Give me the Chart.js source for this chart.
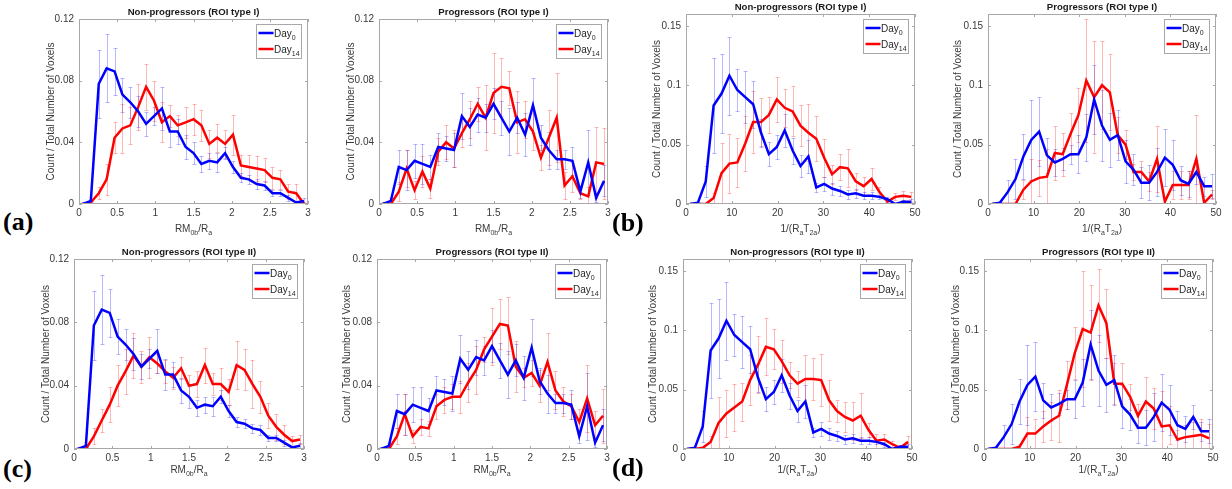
<!DOCTYPE html>
<html>
<head>
<meta charset="utf-8">
<script src="https://cdn.jsdelivr.net/npm/chart.js@4.4.1/dist/chart.umd.min.js"></script>
<style>
  html, body { margin: 0; padding: 0; background: #ffffff; }
  #page { position: relative; width: 1232px; height: 489px; overflow: hidden; background: #ffffff; }
  canvas { position: absolute; }
  .plabel { position: absolute; font-family: "Liberation Serif", "DejaVu Serif", serif; font-weight: bold; font-size: 26px; line-height: 26px; color: #000; }
</style>
</head>
<body>
<div id="page">
  <div class="plabel" style="left:3px;top:209px;">(a)</div>
  <div class="plabel" style="left:612px;top:210px;">(b)</div>
  <div class="plabel" style="left:3px;top:456px;">(c)</div>
  <div class="plabel" style="left:612px;top:455px;">(d)</div>
</div>
<script>
// ---------- categories (bin centres) ----------
const RM_X = [0.052,0.155,0.259,0.362,0.466,0.569,0.672,0.776,0.879,0.983,1.086,1.190,1.293,1.397,1.500,1.603,1.707,1.810,1.914,2.017,2.121,2.224,2.328,2.431,2.534,2.638,2.741,2.845,2.948];
const T_X  = [0.86,2.59,4.31,6.03,7.76,9.48,11.21,12.93,14.66,16.38,18.10,19.83,21.55,23.28,25.00,26.72,28.45,30.17,31.90,33.62,35.34,37.07,38.79,40.52,42.24,43.97,45.69,47.41,49.14];

// ---------- tick labels ----------
const RM_XTICKS = [0,0.5,1,1.5,2,2.5,3];
const T_XTICKS  = [0,10,20,30,40,50];
const RM_YTICKS = [0,0.04,0.08,0.12];
const T_YTICKS  = [0,0.05,0.1,0.15];

// ---------- series: Day0 (blue) ----------
const D0_NP_RM  = [0.000,0.002,0.078,0.088,0.086,0.071,0.066,0.060,0.052,0.057,0.062,0.047,0.047,0.037,0.033,0.026,0.028,0.027,0.033,0.024,0.017,0.016,0.013,0.012,0.007,0.007,0.004,0.001,0.002];
const D0_NP_RM_E= [0.001,0.001,0.022,0.022,0.015,0.011,0.010,0.010,0.008,0.006,0.014,0.010,0.008,0.008,0.007,0.005,0.005,0.006,0.004,0.004,0.003,0.003,0.003,0.003,0.002,0.002,0.002,0.001,0.002];
const D0_P_RM   = [0.000,0.002,0.024,0.022,0.028,0.026,0.024,0.037,0.036,0.035,0.057,0.050,0.058,0.056,0.065,0.056,0.047,0.056,0.045,0.064,0.043,0.035,0.029,0.029,0.028,0.008,0.027,0.004,0.015];
const D0_P_RM_E = [0.001,0.002,0.011,0.013,0.011,0.013,0.008,0.009,0.008,0.011,0.015,0.012,0.011,0.009,0.010,0.011,0.015,0.010,0.014,0.018,0.008,0.012,0.006,0.006,0.009,0.004,0.021,0.003,0.010];
const D0_NP_T   = [0.000,0.001,0.019,0.083,0.093,0.108,0.096,0.090,0.084,0.060,0.042,0.048,0.062,0.045,0.032,0.040,0.014,0.017,0.013,0.011,0.008,0.009,0.007,0.007,0.006,0.004,0.000,0.002,0.002];
const D0_NP_T_E = [0.000,0.001,0.013,0.040,0.033,0.033,0.018,0.022,0.020,0.012,0.010,0.010,0.014,0.011,0.009,0.014,0.004,0.006,0.005,0.004,0.004,0.004,0.003,0.003,0.002,0.002,0.001,0.001,0.002];
const D0_P_T    = [0.000,0.001,0.010,0.021,0.040,0.054,0.061,0.041,0.035,0.038,0.042,0.042,0.056,0.088,0.066,0.054,0.058,0.036,0.029,0.018,0.018,0.027,0.039,0.033,0.020,0.017,0.027,0.015,0.015];
const D0_P_T_E  = [0.000,0.001,0.010,0.017,0.019,0.034,0.029,0.015,0.011,0.009,0.008,0.016,0.020,0.029,0.030,0.023,0.021,0.018,0.013,0.013,0.015,0.020,0.024,0.021,0.012,0.011,0.010,0.008,0.010];

// ---------- series: Day14 (red) ----------
const D14_NP_RM_I   = [0.000,0.001,0.007,0.016,0.043,0.049,0.051,0.063,0.076,0.067,0.053,0.057,0.051,0.053,0.055,0.051,0.039,0.043,0.039,0.045,0.025,0.024,0.023,0.022,0.017,0.016,0.008,0.007,0.000];
const D14_NP_RM_I_E = [0.000,0.001,0.004,0.010,0.010,0.016,0.012,0.015,0.015,0.013,0.013,0.007,0.007,0.010,0.010,0.010,0.009,0.009,0.009,0.013,0.007,0.008,0.008,0.008,0.007,0.006,0.005,0.006,0.001];
const D14_P_RM_I    = [0.000,0.000,0.008,0.023,0.009,0.021,0.010,0.034,0.040,0.036,0.046,0.055,0.065,0.056,0.072,0.076,0.075,0.053,0.055,0.047,0.030,0.043,0.056,0.012,0.018,0.007,0.005,0.027,0.026];
const D14_P_RM_I_E  = [0.000,0.001,0.006,0.012,0.006,0.010,0.006,0.009,0.011,0.012,0.009,0.012,0.011,0.021,0.026,0.019,0.011,0.020,0.012,0.012,0.008,0.018,0.029,0.009,0.010,0.004,0.006,0.023,0.023];
const D14_NP_T_I    = [0.000,0.000,0.000,0.005,0.026,0.034,0.035,0.051,0.069,0.069,0.075,0.088,0.081,0.078,0.066,0.060,0.055,0.039,0.025,0.031,0.030,0.019,0.015,0.021,0.010,0.002,0.006,0.007,0.006];
const D14_NP_T_I_E  = [0.000,0.000,0.000,0.004,0.025,0.025,0.021,0.023,0.026,0.020,0.015,0.019,0.016,0.021,0.017,0.024,0.019,0.016,0.008,0.011,0.016,0.007,0.008,0.009,0.004,0.002,0.003,0.004,0.004];
const D14_P_T_I     = [0.000,0.000,0.000,0.000,0.012,0.019,0.022,0.023,0.043,0.042,0.059,0.075,0.104,0.090,0.100,0.094,0.058,0.050,0.027,0.027,0.019,0.038,0.002,0.016,0.016,0.016,0.038,0.001,0.008];
const D14_P_T_I_E   = [0.000,0.000,0.000,0.000,0.008,0.019,0.015,0.023,0.023,0.018,0.018,0.023,0.052,0.047,0.037,0.032,0.015,0.012,0.007,0.009,0.008,0.028,0.003,0.012,0.012,0.012,0.037,0.002,0.004];
const D14_NP_RM_II  = [0.000,0.000,0.008,0.018,0.028,0.040,0.049,0.059,0.052,0.058,0.054,0.049,0.045,0.051,0.040,0.041,0.053,0.041,0.041,0.036,0.053,0.050,0.041,0.033,0.021,0.014,0.009,0.005,0.006];
const D14_NP_RM_II_E= [0.000,0.001,0.005,0.007,0.011,0.013,0.014,0.014,0.010,0.013,0.006,0.007,0.007,0.007,0.007,0.008,0.011,0.007,0.010,0.008,0.015,0.013,0.015,0.010,0.008,0.008,0.006,0.003,0.003];
const D14_P_RM_II   = [0.000,0.000,0.008,0.022,0.008,0.014,0.013,0.027,0.031,0.033,0.033,0.042,0.050,0.063,0.071,0.079,0.078,0.052,0.045,0.048,0.040,0.055,0.037,0.030,0.027,0.017,0.032,0.015,0.021];
const D14_P_RM_II_E = [0.000,0.001,0.005,0.013,0.004,0.005,0.005,0.008,0.008,0.008,0.010,0.012,0.015,0.008,0.018,0.016,0.018,0.016,0.006,0.008,0.010,0.018,0.012,0.009,0.008,0.008,0.021,0.009,0.017];
const D14_NP_T_II   = [0.000,0.000,0.001,0.006,0.022,0.030,0.035,0.040,0.058,0.071,0.086,0.084,0.074,0.062,0.055,0.059,0.059,0.058,0.041,0.032,0.027,0.024,0.028,0.016,0.007,0.008,0.004,0.001,0.006];
const D14_NP_T_II_E = [0.000,0.000,0.001,0.005,0.022,0.020,0.020,0.016,0.021,0.024,0.024,0.017,0.018,0.011,0.011,0.020,0.018,0.022,0.017,0.009,0.013,0.016,0.019,0.006,0.006,0.005,0.003,0.002,0.005];
const D14_P_T_II    = [0.000,0.000,0.000,0.000,0.002,0.013,0.013,0.019,0.024,0.028,0.054,0.081,0.101,0.098,0.121,0.106,0.055,0.055,0.044,0.028,0.040,0.034,0.019,0.020,0.008,0.010,0.011,0.012,0.009];
const D14_P_T_II_E  = [0.000,0.000,0.000,0.000,0.002,0.014,0.012,0.013,0.016,0.022,0.020,0.022,0.049,0.040,0.031,0.029,0.017,0.017,0.011,0.010,0.021,0.017,0.030,0.016,0.008,0.010,0.012,0.013,0.012];

const Y_TITLE = 'Count / Total Number of Voxels';
const LEGEND = [['Day','0'],['Day','14']];
const XLAB = {
  rm: [['RM',0],['0b',1],['/R',0],['a',1]],
  t:  [['1/(R',0],['a',1],['T',0],['2a',1],[')',0]]
};

const FONT = '"Liberation Sans", Arial, Helvetica, sans-serif';
const BLUE = '#0000ff', RED = '#ff0000';
const BLUE_E = 'rgba(0,0,255,0.28)', RED_E = 'rgba(255,0,0,0.28)';
const AXC = '#a8a8a8', TXT = '#3a3a3a';

const PANELS = [
  {L:79,  R:308,  T:19,  B:204, yt:6.7, row:0, kind:'rm', title:'Non-progressors (ROI type I)', b:D0_NP_RM, be:D0_NP_RM_E, r:D14_NP_RM_I, re:D14_NP_RM_I_E},
  {L:379, R:608,  T:19,  B:204, yt:6.7, row:0, kind:'rm', title:'Progressors (ROI type I)', b:D0_P_RM, be:D0_P_RM_E, r:D14_P_RM_I, re:D14_P_RM_I_E},
  {L:686, R:915,  T:14,  B:204, yt:5.6, row:0, kind:'t',  title:'Non-progressors (ROI type I)', b:D0_NP_T, be:D0_NP_T_E, r:D14_NP_T_I, re:D14_NP_T_I_E},
  {L:988, R:1216, T:14,  B:204, yt:4.3, row:0, kind:'t',  title:'Progressors (ROI type I)', b:D0_P_T, be:D0_P_T_E, r:D14_P_T_I, re:D14_P_T_I_E},
  {L:74,  R:304,  T:259, B:449, yt:6.7, row:1, kind:'rm', title:'Non-progressors (ROI type II)', b:D0_NP_RM, be:D0_NP_RM_E, r:D14_NP_RM_II, re:D14_NP_RM_II_E},
  {L:377, R:607,  T:259, B:449, yt:4.3, row:1, kind:'rm', title:'Progressors (ROI type II)', b:D0_P_RM, be:D0_P_RM_E, r:D14_P_RM_II, re:D14_P_RM_II_E},
  {L:683, R:912,  T:259, B:449, yt:4.3, row:1, kind:'t',  title:'Non-progressors (ROI type II)', b:D0_NP_T, be:D0_NP_T_E, r:D14_NP_T_II, re:D14_NP_T_II_E},
  {L:984, R:1213, T:259, B:449, yt:6.7, row:1, kind:'t',  title:'Progressors (ROI type II)', b:D0_P_T, be:D0_P_T_E, r:D14_P_T_II, re:D14_P_T_II_E}
];

function drawParts(ctx, parts, cx, cy, align, mainSize, subSize) {
  const fm = mainSize + 'px ' + FONT, fs = subSize + 'px ' + FONT;
  let w = 0;
  parts.forEach(([t, s]) => { ctx.font = s ? fs : fm; w += ctx.measureText(t).width; });
  let x = align === 'center' ? cx - w / 2 : cx;
  ctx.textAlign = 'left';
  ctx.textBaseline = 'alphabetic';
  parts.forEach(([t, s]) => {
    ctx.font = s ? fs : fm;
    ctx.fillText(t, x, s ? cy + mainSize * 0.35 + 3 : cy + mainSize * 0.35);
    x += ctx.measureText(t).width;
  });
}

function makeDecor(p, xs, xticks, yticks) {
  return {
    id: 'decor',
    beforeDatasetsDraw(chart) {
      const {ctx, chartArea: a, scales: {x, y}} = chart;
      ctx.save();
      ctx.beginPath(); ctx.rect(a.left, a.top - 2, a.width, a.height + 2); ctx.clip();
      ctx.lineWidth = 1;
      [[p.b, p.be, BLUE_E], [p.r, p.re, RED_E]].forEach(([v, e, col]) => {
        ctx.strokeStyle = col;
        xs.forEach((xv, i) => {
          if (!e[i]) return;
          const px = Math.round(x.getPixelForValue(xv)) + 0.5;
          const y1 = Math.round(y.getPixelForValue(v[i] - e[i])) + 0.5;
          const y2 = Math.round(y.getPixelForValue(v[i] + e[i])) + 0.5;
          ctx.beginPath();
          ctx.moveTo(px, y1); ctx.lineTo(px, y2);
          ctx.moveTo(px - 2, y1); ctx.lineTo(px + 2, y1);
          ctx.moveTo(px - 2, y2); ctx.lineTo(px + 2, y2);
          ctx.stroke();
        });
      });
      ctx.restore();
    },
    afterDraw(chart) {
      const {ctx, chartArea: a, scales: {x, y}} = chart;
      ctx.save();
      // box
      ctx.strokeStyle = AXC; ctx.lineWidth = 1;
      ctx.strokeRect(a.left + 0.5, a.top + 0.5, a.width - 1, a.height - 1);
      // inward ticks
      ctx.beginPath();
      xticks.forEach(v => {
        const px = Math.round(x.getPixelForValue(v)) + 0.5;
        ctx.moveTo(px, a.bottom); ctx.lineTo(px, a.bottom - 3);
        ctx.moveTo(px, a.top); ctx.lineTo(px, a.top + 3);
      });
      yticks.forEach(v => {
        const py = Math.round(y.getPixelForValue(v)) + 0.5;
        ctx.moveTo(a.left, py); ctx.lineTo(a.left + 3, py);
        ctx.moveTo(a.right, py); ctx.lineTo(a.right - 3, py);
      });
      ctx.stroke();
      // legend
      const lw = 45, lh = 34;
      const bx = Math.round(a.right - 7 - lw) + 0.5, by = Math.round(a.top + 5) + 0.5;
      ctx.fillStyle = '#ffffff'; ctx.fillRect(bx, by, lw, lh);
      ctx.strokeStyle = AXC; ctx.strokeRect(bx, by, lw, lh);
      [[BLUE, 0], [RED, 1]].forEach(([col, k]) => {
        const ly = by + 8.5 + k * 16;
        ctx.strokeStyle = col; ctx.lineWidth = 2.5;
        ctx.beginPath(); ctx.moveTo(bx + 2, ly); ctx.lineTo(bx + 17, ly); ctx.stroke();
        ctx.fillStyle = '#262626';
        drawParts(ctx, [[LEGEND[k][0], 0], [LEGEND[k][1], 1]], bx + 17.5, ly, 'left', 10, 7);
      });
      // x label
      ctx.fillStyle = TXT;
      const cy = a.bottom + (p.row === 0 ? 24 : 20.5);
      drawParts(ctx, XLAB[p.kind], (a.left + a.right) / 2, cy, 'center', 10, 7);
      ctx.restore();
    }
  };
}

const page = document.getElementById('page');
const YW = 40, XH = 40, PADL = 2, PADR = 14, TITLEH = 13;

PANELS.forEach(p => {
  const isRM = p.kind === 'rm';
  const xs = isRM ? RM_X : T_X;
  const xticks = isRM ? RM_XTICKS : T_XTICKS;
  const yticks = isRM ? RM_YTICKS : T_YTICKS;
  const xMax = isRM ? 3 : 50, yMax = isRM ? 0.12 : 0.16;

  const top = Math.max(0, p.T - TITLEH - 2);
  const padT = p.T - TITLEH - top;
  const left = p.L - YW - PADL;
  const w = PADL + YW + (p.R - p.L) + PADR;
  const h = padT + TITLEH + (p.B - p.T) + XH;

  const cv = document.createElement('canvas');
  cv.width = w; cv.height = h;
  cv.style.left = left + 'px'; cv.style.top = top + 'px';
  cv.style.width = w + 'px'; cv.style.height = h + 'px';
  page.insertBefore(cv, page.firstChild);

  new Chart(cv, {
    type: 'line',
    data: {
      datasets: [
        {label: 'Day0', data: xs.map((xv, i) => ({x: xv, y: p.b[i]})), borderColor: BLUE, borderWidth: 2.5, pointRadius: 0, tension: 0, fill: false},
        {label: 'Day14', data: xs.map((xv, i) => ({x: xv, y: p.r[i]})), borderColor: RED, borderWidth: 2.5, pointRadius: 0, tension: 0, fill: false}
      ]
    },
    options: {
      responsive: false, animation: false, events: [],
      devicePixelRatio: 1,
      layout: {padding: {left: PADL, right: PADR, top: padT, bottom: 0}},
      plugins: {
        legend: {display: false},
        tooltip: {enabled: false},
        title: {display: true, text: p.title, fullSize: false, color: '#1a1a1a',
                font: {family: FONT, size: 9.6, weight: 'bold', lineHeight: '12px'},
                padding: {top: 0, bottom: 1}}
      },
      scales: {
        x: {
          type: 'linear', min: 0, max: xMax,
          grid: {display: false, drawTicks: false}, border: {display: false},
          afterBuildTicks: s => { s.ticks = xticks.map(v => ({value: v})); },
          afterFit: s => { s.height = XH; },
          ticks: {autoSkip: false, maxRotation: 0, padding: 3, color: TXT,
                  font: {family: FONT, size: 10}, callback: v => String(v)}
        },
        y: {
          type: 'linear', min: 0, max: yMax,
          grid: {display: false, drawTicks: false}, border: {display: false},
          afterBuildTicks: s => { s.ticks = yticks.map(v => ({value: v})); },
          afterFit: s => { s.width = YW; },
          ticks: {autoSkip: false, padding: 5, color: TXT,
                  font: {family: FONT, size: 10}, callback: v => String(v)},
          title: {display: true, text: Y_TITLE, color: TXT,
                  font: {family: FONT, size: 10, lineHeight: '12px'},
                  padding: {top: p.yt, bottom: 0}}
        }
      }
    },
    plugins: [makeDecor(p, xs, xticks, yticks)]
  });
});
</script>
</body>
</html>
